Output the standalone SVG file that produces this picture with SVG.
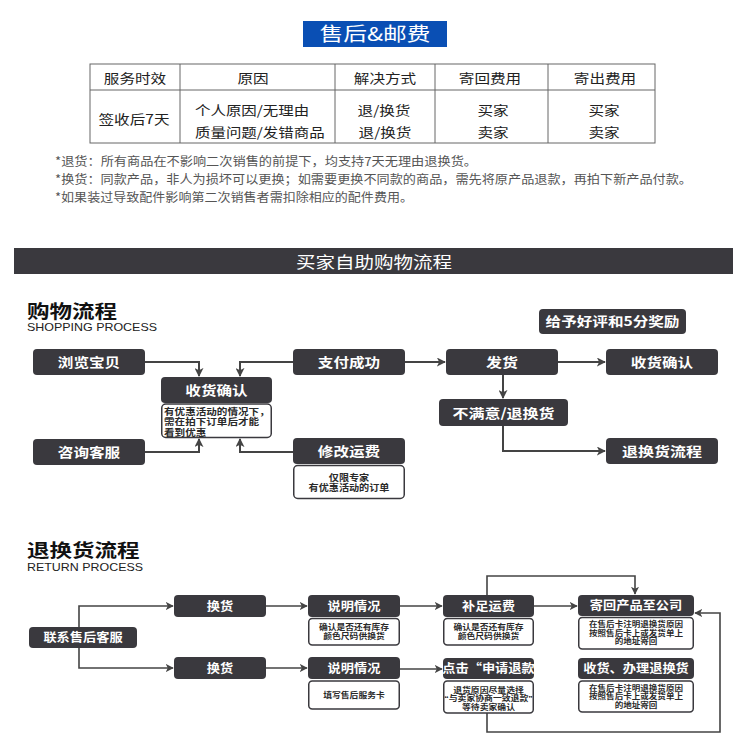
<svg xmlns="http://www.w3.org/2000/svg" width="750" height="750" viewBox="0 0 750 750">
<defs>
<style>
text{font-family:"Noto Sans CJK SC","Noto Sans","Liberation Sans",sans-serif}
.box{fill:#3a393e}
.note{fill:#fff;stroke:#3a393e;stroke-width:1.5}
.lbl{fill:#fff;font-weight:bold;font-size:13px;text-anchor:middle}
.rl{fill:#fff;font-weight:bold;font-size:12px;text-anchor:middle}
.nt{fill:#2a2a2a;font-weight:bold;font-size:9.2px;font-family:"Liberation Sans","Noto Sans CJK SC",sans-serif}
.rn{fill:#2a2a2a;font-weight:bold;font-size:8px;text-anchor:middle;font-family:"Liberation Sans","Noto Sans CJK SC",sans-serif}
.rn3{fill:#2a2a2a;font-weight:bold;font-size:7.5px;text-anchor:middle;font-family:"Liberation Sans","Noto Sans CJK SC",sans-serif}
.tb{fill:#222;font-size:13px;text-anchor:middle}
.tbs{fill:#222;font-size:13px}
.fn{fill:#555;font-size:12px}
.hd{fill:#111;font-weight:bold;font-size:18px;font-family:"Liberation Sans","Noto Sans CJK SC",sans-serif}
.en{fill:#222;font-size:10.5px;font-family:"Liberation Sans",Arial,sans-serif}
.ln{fill:none;stroke:#444;stroke-width:2}
.ln2{fill:none;stroke:#444;stroke-width:1.6}
</style>
<marker id="ah" viewBox="0 0 10 10" refX="9" refY="5" markerWidth="9" markerHeight="9" markerUnits="userSpaceOnUse" orient="auto"><path d="M0,0 L10,5 L0,10 L2.5,5 z" fill="#444"/></marker>
<marker id="ah2" viewBox="0 0 10 10" refX="9" refY="5" markerWidth="8" markerHeight="8" markerUnits="userSpaceOnUse" orient="auto"><path d="M0,0 L10,5 L0,10 L2.5,5 z" fill="#444"/></marker>
</defs>
<rect width="750" height="750" fill="#fff"/>

<!-- Title -->
<g id="title">
<rect x="303" y="21" width="144" height="26" fill="#0a4fb4"/>
<text transform="translate(375,41) scale(1.25,1)" fill="#fff" font-size="19" text-anchor="middle">售后&amp;邮费</text>
</g>

<!-- Table -->
<g id="table">
<rect x="90" y="64" width="565" height="79" fill="none" stroke="#666" stroke-width="1"/>
<line x1="90" y1="90" x2="655" y2="90" stroke="#666"/>
<line x1="180" y1="64" x2="180" y2="143" stroke="#666"/>
<line x1="335" y1="64" x2="335" y2="143" stroke="#666"/>
<line x1="435" y1="64" x2="435" y2="143" stroke="#666"/>
<line x1="548" y1="64" x2="548" y2="143" stroke="#666"/>
<text class="tb" transform="translate(135,82.5) scale(1.2,1)">服务时效</text>
<text class="tb" transform="translate(253,82.5) scale(1.2,1)">原因</text>
<text class="tb" transform="translate(385,82.5) scale(1.2,1)">解决方式</text>
<text class="tb" transform="translate(490,82.5) scale(1.2,1)">寄回费用</text>
<text class="tb" transform="translate(605,82.5) scale(1.2,1)">寄出费用</text>
<text class="tb" transform="translate(134,124) scale(1.2,1)">签收后7天</text>
<text class="tbs" transform="translate(195,115) scale(1.19,1)">个人原因/无理由</text>
<text class="tbs" transform="translate(195,136.5) scale(1.19,1)">质量问题/发错商品</text>
<text class="tb" transform="translate(384,115) scale(1.2,1)">退/换货</text>
<text class="tb" transform="translate(385,136.5) scale(1.2,1)">退/换货</text>
<text class="tb" transform="translate(493,115) scale(1.2,1)">买家</text>
<text class="tb" transform="translate(493,136.5) scale(1.2,1)">卖家</text>
<text class="tb" transform="translate(604,115) scale(1.2,1)">买家</text>
<text class="tb" transform="translate(604,136.5) scale(1.2,1)">卖家</text>
</g>

<!-- Footnotes -->
<g id="footnotes">
<text class="fn" x="55" y="165.5" textLength="422" lengthAdjust="spacingAndGlyphs">*退货：所有商品在不影响二次销售的前提下，均支持7天无理由退换货。</text>
<text class="fn" x="55" y="183.5" textLength="637" lengthAdjust="spacingAndGlyphs">*换货：同款产品，非人为损坏可以更换；如需要更换不同款的商品，需先将原产品退款，再拍下新产品付款。</text>
<text class="fn" x="55" y="202" textLength="358" lengthAdjust="spacingAndGlyphs">*如果装过导致配件影响第二次销售者需扣除相应的配件费用。</text>
</g>

<!-- Banner -->
<g id="banner">
<rect x="14" y="248" width="719" height="26" fill="#3a393e"/>
<text transform="translate(374,268) scale(1.22,1)" fill="#fff" font-size="16" text-anchor="middle">买家自助购物流程</text>
</g>

<!-- Section headings -->
<g id="shop-heading">
<text class="hd" transform="translate(27,317.5) scale(1.25,1)">购物流程</text>
<text class="en" x="27" y="331" textLength="130" lengthAdjust="spacingAndGlyphs">SHOPPING PROCESS</text>
</g>
<g id="return-heading">
<text class="hd" transform="translate(27,557) scale(1.25,1)">退换货流程</text>
<text class="en" x="27" y="570.5" textLength="116" lengthAdjust="spacingAndGlyphs">RETURN PROCESS</text>
</g>

<!-- Connectors -->
<g id="connectors">
<path class="ln" d="M145,362 H199 V376" marker-end="url(#ah)"/>
<path class="ln" d="M293,362 H240 V376" marker-end="url(#ah)"/>
<path class="ln" d="M145,452 H199 V439" marker-end="url(#ah)"/>
<path class="ln" d="M293,452 H240 V439" marker-end="url(#ah)"/>
<path class="ln" d="M405,362 H445" marker-end="url(#ah)"/>
<path class="ln" d="M558,362 H605" marker-end="url(#ah)"/>
<path class="ln" d="M503,375 V398" marker-end="url(#ah)"/>
<path class="ln" d="M503,426 V451 H605" marker-end="url(#ah)"/>

<path class="ln2" d="M79,627 V606 H173" marker-end="url(#ah2)"/>
<path class="ln2" d="M79,648 V668 H173" marker-end="url(#ah2)"/>
<path class="ln2" d="M266,606 H307" marker-end="url(#ah2)"/>
<path class="ln2" d="M266,668 H307" marker-end="url(#ah2)"/>
<path class="ln2" d="M400,606 H442" marker-end="url(#ah2)"/>
<path class="ln2" d="M400,669 H442" marker-end="url(#ah2)"/>
<path class="ln2" d="M534,606 H577" marker-end="url(#ah2)"/>
<path class="ln2" d="M487,595 V576 H635 V594" marker-end="url(#ah2)"/>
<path class="ln2" d="M487,713 V732 H720 V613 H695" marker-end="url(#ah2)"/>
</g>

<!-- Shopping nodes -->
<g id="n-reward"><rect class="box" x="539" y="309" width="147" height="25" rx="4"/><text class="lbl" transform="translate(612.5,326) scale(1.2,1)">给予好评和5分奖励</text></g>
<g id="n-browse"><rect class="box" x="33" y="349" width="112" height="26" rx="4"/><text class="lbl" transform="translate(89,367) scale(1.2,1)">浏览宝贝</text></g>
<g id="n-pay"><rect class="box" x="293" y="349" width="112" height="26" rx="4"/><text class="lbl" transform="translate(349,367) scale(1.2,1)">支付成功</text></g>
<g id="n-ship"><rect class="box" x="446" y="349" width="112" height="26" rx="4"/><text class="lbl" transform="translate(502,367) scale(1.23,1)">发货</text></g>
<g id="n-receive-r"><rect class="box" x="606" y="349" width="112" height="26" rx="4"/><text class="lbl" transform="translate(662,367) scale(1.2,1)">收货确认</text></g>
<g id="n-receive-c">
<rect class="box" x="161" y="377" width="111" height="26" rx="4"/>
<text class="lbl" transform="translate(216.5,395) scale(1.2,1)">收货确认</text>
<rect class="note" x="161.75" y="404" width="109.5" height="33.5" rx="4"/>
<text class="nt" transform="translate(164,414.5) scale(1.15,1)">有优惠活动的情况下，</text>
<text class="nt" transform="translate(164,425) scale(1.15,1)">需在拍下订单后才能</text>
<text class="nt" transform="translate(164,435.5) scale(1.15,1)">看到优惠</text>
</g>
<g id="n-consult"><rect class="box" x="33" y="439" width="112" height="26" rx="4"/><text class="lbl" transform="translate(89,457) scale(1.2,1)">咨询客服</text></g>
<g id="n-fee">
<rect class="box" x="293" y="438" width="112" height="26" rx="4"/>
<text class="lbl" transform="translate(349,456) scale(1.2,1)">修改运费</text>
<rect class="note" x="293.75" y="465.5" width="110.5" height="33" rx="4"/>
<text class="nt" text-anchor="middle" transform="translate(349,480.5) scale(1.1,1)">仅限专家</text>
<text class="nt" text-anchor="middle" transform="translate(349,491) scale(1.1,1)">有优惠活动的订单</text>
</g>
<g id="n-unhappy"><rect class="box" x="439" y="399" width="129" height="27" rx="4"/><text class="lbl" transform="translate(503.5,417.5) scale(1.23,1)">不满意/退换货</text></g>
<g id="n-returnflow"><rect class="box" x="606" y="438" width="112" height="26" rx="4"/><text class="lbl" transform="translate(662,456) scale(1.23,1)">退换货流程</text></g>

<!-- Return nodes -->
<g id="r-contact"><rect class="box" x="29" y="627" width="108" height="21" rx="4"/><text class="rl" transform="translate(83,642) scale(1.1,1)">联系售后客服</text></g>
<g id="r-exch1"><rect class="box" x="174" y="595" width="92" height="22" rx="4"/><text class="rl" transform="translate(220,610.5) scale(1.1,1)">换货</text></g>
<g id="r-exch2"><rect class="box" x="174" y="657" width="92" height="22" rx="4"/><text class="rl" transform="translate(220,672.5) scale(1.1,1)">换货</text></g>
<g id="r-explain1">
<rect class="box" x="308" y="595" width="92" height="22" rx="4"/>
<text class="rl" transform="translate(354,610.5) scale(1.1,1)">说明情况</text>
<rect class="note" x="308.75" y="618.5" width="90.5" height="26.5" rx="3.5"/>
<text class="rn" transform="translate(354,629.5) scale(1.1,1)">确认是否还有库存</text>
<text class="rn" transform="translate(354,638.5) scale(1.1,1)">颜色尺码供换货</text>
</g>
<g id="r-explain2">
<rect class="box" x="308" y="657" width="92" height="22" rx="4"/>
<text class="rl" transform="translate(354,672.5) scale(1.1,1)">说明情况</text>
<rect class="note" x="308.75" y="681" width="90.5" height="28" rx="3.5"/>
<text class="rn" transform="translate(354,698) scale(1.1,1)">填写售后服务卡</text>
</g>
<g id="r-topup">
<rect class="box" x="443" y="595" width="91" height="22" rx="4"/>
<text class="rl" transform="translate(488.5,610.5) scale(1.1,1)">补足运费</text>
<rect class="note" x="443.75" y="618.5" width="89.5" height="26.5" rx="3.5"/>
<text class="rn" transform="translate(488.5,629.5) scale(1.1,1)">确认是否还有库存</text>
<text class="rn" transform="translate(488.5,638.5) scale(1.1,1)">颜色尺码供换货</text>
</g>
<g id="r-refund">
<rect class="box" x="443" y="658" width="91" height="21" rx="4"/>
<text class="rl" transform="translate(488.5,672.5) scale(1.1,1)">点击“申请退款</text>
<rect class="note" x="443.75" y="681" width="89.5" height="32" rx="3.5"/>
<text class="rn3" transform="translate(488.5,692.5) scale(1.18,1)">退货原因尽量选择</text>
<text class="rn3" transform="translate(488.5,701) scale(1.18,1)">“与卖家协商一致退款”</text>
<text class="rn3" transform="translate(488.5,709.5) scale(1.18,1)">等待卖家确认</text>
</g>
<g id="r-sendback">
<rect class="box" x="578" y="595" width="116" height="21" rx="4"/>
<text class="rl" transform="translate(636,610) scale(1.1,1)">寄回产品至公司</text>
<rect class="note" x="578.75" y="617.5" width="114.5" height="31.5" rx="3.5"/>
<text class="rn3" transform="translate(636,627) scale(1.14,1)">在售后卡注明退换货原因</text>
<text class="rn3" transform="translate(636,635.5) scale(1.14,1)">按照售后卡上或发货单上</text>
<text class="rn3" transform="translate(636,644) scale(1.14,1)">的地址寄回</text>
</g>
<g id="r-handle">
<rect class="box" x="578" y="658" width="116" height="21" rx="4"/>
<text class="rl" transform="translate(636,673) scale(1.1,1)">收货、办理退换货</text>
<rect class="note" x="578.75" y="681" width="114.5" height="31" rx="3.5"/>
<text class="rn3" transform="translate(636,690.5) scale(1.14,1)">在售后卡注明退换货原因</text>
<text class="rn3" transform="translate(636,699) scale(1.14,1)">按照售后卡上或发货单上</text>
<text class="rn3" transform="translate(636,707.5) scale(1.14,1)">的地址寄回</text>
</g>
</svg>
